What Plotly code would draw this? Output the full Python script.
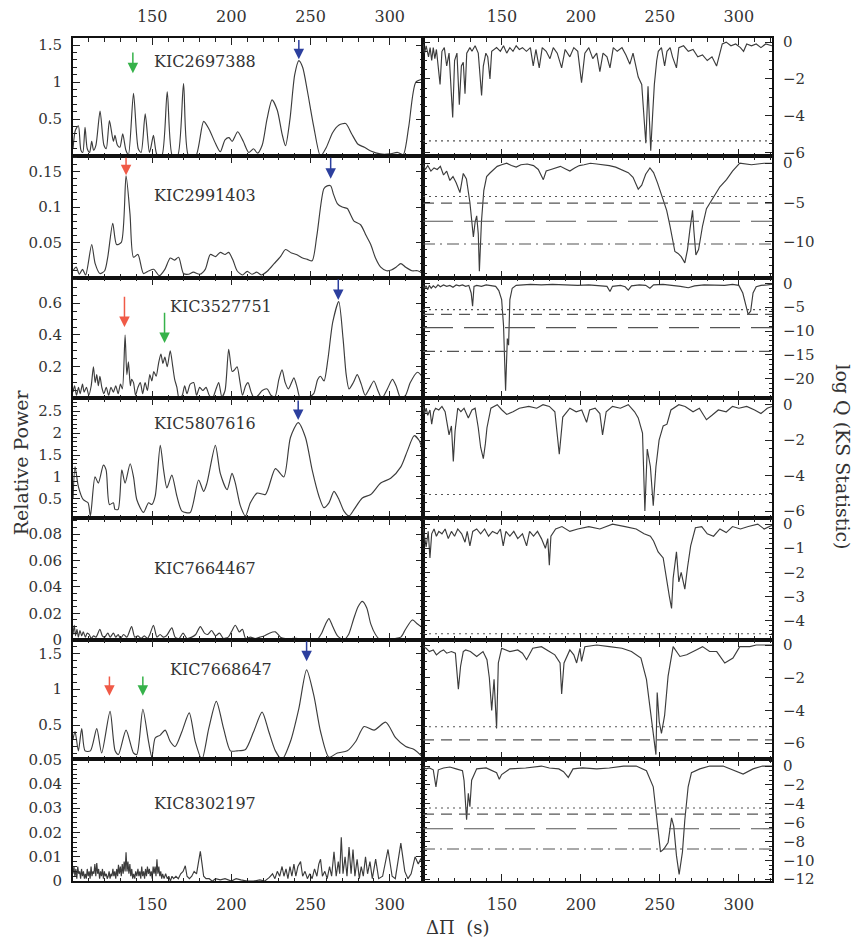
import plotly.graph_objects as go

# ---------------- data ----------------
STARS = ["KIC2697388", "KIC2991403", "KIC3527751", "KIC5807616",
         "KIC7664467", "KIC7668647", "KIC8302197"]

XR = [100, 321]
X_TICKS = [150, 200, 250, 300]

# Left column: relative power vs period spacing
L1 = [(100,0.1),(101.5,0.35),(103.4,0.41),(105,0.08),(106.2,0.05),(107.6,0.39),(109,0.1),(110.5,0.05),(111.8,0.2),(113,0.08),
      (114.5,0.15),(117.1,0.61),(119.5,0.15),(121,0.1),(123,0.48),(125.5,0.2),(126.5,0.28),(128,0.15),(129.6,0.12),(131.4,0.3),
      (133.4,0.08),(135,0.02),(138.2,0.85),(141.2,0.1),(143,0.05),(145.6,0.57),(148.2,0.05),(149.2,0.12),(150.8,0.28),(153,0.02),
      (156,0.0),(159.5,0.87),(162.8,0.0),(166,0.0),(169.8,0.98),(173,0.0),(177.5,0.0),(182.5,0.47),(186,0.36),(190,0.17),
      (193,0.06),(196,0.22),(198.5,0.25),(200.5,0.2),(204,0.33),(207.5,0.2),(211,0.05),(214,0.1),(216.5,0.04),(219.5,0.15),
      (222.5,0.5),(225.7,0.76),(229,0.62),(232,0.3),(234.2,0.14),(237,0.5),(240,1.1),(242.6,1.29),(245,1.2),(248,0.88),
      (252,0.4),(256.3,0.0),(260,0.12),(264,0.32),(268,0.42),(272.2,0.44),(276,0.3),(280,0.16),(284,0.12),(288,0.07),
      (294,0.03),(300,0.03),(305,0.05),(308.5,0.02),(312,0.4),(316.5,1.0),(321,1.04)]

L2 = [(100,0.01),(102,0.015),(104,0.005),(106,0.012),(108,0.004),(111.8,0.047),(114,0.02),(117,0.006),(120,0.01),(122,0.03),
      (125.1,0.077),(127.5,0.047),(130.5,0.05),(133.5,0.144),(136,0.09),(138.2,0.029),(141,0.033),(144.5,0.006),(148,0.01),(151,0.012),
      (154.5,0.003),(158,0.012),(161.4,0.028),(164,0.025),(166.7,0.029),(169.8,0.006),(173,0.005),(176,0.008),(180,0.005),(183.5,0.012),
      (186.7,0.033),(190,0.03),(193,0.036),(196,0.033),(198.3,0.036),(201,0.025),(203.6,0.01),(207,0.004),(210,0.009),(213,0.005),
      (216,0.008),(219,0.004),(223,0.01),(227,0.02),(231,0.03),(234.2,0.04),(238,0.035),(241,0.033),(245,0.028),(248,0.026),
      (251,0.024),(254,0.06),(258.4,0.126),(260.5,0.13),(262.7,0.13),(264.5,0.118),(266.9,0.105),(270,0.1),(273.2,0.098),(275.5,0.088),
      (277.4,0.08),(281.6,0.075),(285,0.06),(288,0.047),(291,0.028),(294.3,0.015),(298,0.01),(301,0.011),(304,0.015),(307,0.02),
      (310,0.015),(314,0.01),(317.5,0.01),(321,0.006)]

L3 = [(100,0.04),(101,0.08),(102.2,0.02),(103.5,0.07),(104.5,0.03),(106,0.09),(107,0.04),(108.5,0.07),(110,0.02),(111.5,0.08),
      (112.9,0.2),(114,0.1),(115,0.15),(116,0.08),(117,0.14),(118.2,0.07),(119.5,0.03),(121,0.07),(122.5,0.02),(124,0.07),
      (125.5,0.04),(127,0.08),(128.5,0.03),(130,0.09),(131.2,0.06),(132.9,0.4),(134,0.15),(135,0.23),(136.2,0.08),(137,0.12),
      (138.2,0.1),(139.5,0.02),(141,0.07),(142.5,0.1),(144,0.03),(145.5,0.1),(147,0.05),(148.5,0.15),(149.8,0.11),(151,0.17),
      (152.5,0.14),(154,0.22),(155.5,0.28),(156.8,0.22),(158,0.26),(159.5,0.2),(161.4,0.3),(163,0.2),(164.2,0.12),(165.6,0.07),
      (167,0.0),(169,0.02),(170.5,0.08),(172,0.03),(174,0.09),(176.2,0.1),(178,0.02),(180,0.07),(182,0.05),(184,0.07),
      (186,0.02),(188,0.0),(190,0.05),(192,0.1),(194,0.01),(196,0.05),(198.3,0.31),(200.5,0.17),(202,0.18),(203.6,0.2),
      (205.5,0.1),(207,0.02),(209,0.08),(210.5,0.1),(212.5,0.04),(214.5,0.0),(217,0.02),(219.5,0.05),(222.6,0.06),(225,0.02),
      (227.5,0.01),(230,0.12),(232,0.18),(234,0.1),(236,0.06),(238,0.1),(239.5,0.13),(241.5,0.07),(243.5,0.0),(246,0.01),
      (249,0.01),(252,0.03),(254.5,0.12),(256.3,0.14),(258.5,0.11),(261,0.25),(264,0.48),(267.8,0.61),(270.5,0.38),(272.5,0.15),
      (274.3,0.06),(277,0.1),(279.5,0.15),(282,0.09),(284.5,0.02),(287,0.06),(290,0.11),(292.5,0.05),(295,0.0),(298.5,0.06),
      (301.7,0.12),(304,0.08),(307,0.0),(310,0.02),(313,0.1),(317.5,0.165),(321,0.13)]

L4 = [(100,0.5),(101.3,1.23),(103.4,0.78),(106.5,0.48),(109.5,0.41),(111,0.11),(113.9,1.0),(116,0.86),(119.2,1.27),(120.9,1.16),
      (123,0.37),(125.5,0.41),(126.5,0.26),(128.5,0.26),(130.8,1.16),(132.9,0.86),(136.1,1.3),(138.2,1.0),(140.3,0.48),(144.5,0.19),
      (147.7,0.41),(149.8,0.37),(151.9,0.56),(155.1,1.72),(157.2,1.16),(159.3,0.75),(162.4,1.04),(165.6,0.56),(168.8,0.22),(174,0.19),
      (179.3,0.93),(182.5,0.67),(184.6,0.86),(189.9,1.72),(193,1.08),(197.3,0.71),(200.4,1.08),(202.5,0.86),(205.7,0.34),(208.9,0.11),
      (212,0.41),(216.2,0.63),(221.5,0.6),(227.8,1.19),(233.1,1.0),(237.3,1.9),(242.2,2.24),(246.8,1.9),(251,1.16),(255.3,0.56),
      (258.4,0.3),(261.6,0.41),(264.8,0.67),(268,0.48),(271.1,0.22),(274.3,0.11),(277.5,0.26),(282.7,0.52),(288,0.6),(294.3,0.86),
      (300.6,0.97),(307,1.23),(311.2,1.6),(315.4,1.94),(318.6,1.83),(321,1.57)]

L5 = [(100,0.004),(100.8,0.011),(101.6,0.003),(102.5,0.008),(103.4,0.002),(104.4,0.007),(105.5,0.003),(106.5,0.006),(107.8,0.002),(109,0.005),
      (110.2,0.004),(111.5,0.001),(113,0.003),(114.5,0.002),(117,0.008),(118.5,0.003),(120,0.002),(122,0.005),(123.5,0.002),(125.5,0.005),
      (127,0.002),(128.5,0.004),(130,0.001),(132,0.004),(134,0.002),(137,0.01),(139,0.002),(141,0.003),(143,0.001),(145,0.003),
      (147,0.001),(148.5,0.004),(150.8,0.011),(153,0.002),(155,0.004),(157,0.002),(159,0.003),(162.4,0.009),(164.5,0.002),(167,0.001),
      (169.5,0.005),(172,0.001),(175,0.002),(177.5,0.004),(180.4,0.01),(183,0.005),(185,0.004),(187.5,0.007),(190,0.003),(192.5,0.005),
      (195,0.001),(198,0.002),(200,0.006),(202.5,0.011),(205,0.006),(207,0.008),(209,0.001),(212,0.002),(215,0.001),(218,0.002),
      (221,0.003),(224,0.005),(227.8,0.006),(231,0.002),(234,0.001),(238,0.001),(242,0.001),(246,0.0),(250,0.001),(254,0.0),
      (257,0.005),(259.5,0.012),(261.6,0.016),(264,0.01),(267,0.003),(271,0.0),(274,0.004),(277,0.015),(280,0.025),(282.7,0.029),
      (285.5,0.024),(288,0.012),(291,0.004),(294,0.0),(298,0.0),(303,0.001),(307,0.002),(310,0.008),(314.3,0.015),(317.5,0.012),
      (321,0.009)]

L6 = [(100,0.3),(101.3,0.41),(103.4,0.14),(105.5,0.45),(107.6,0.14),(111,0.14),(115,0.45),(118.1,0.11),(123.4,0.69),(126.6,0.14),
      (128.7,0.09),(133.5,0.43),(138.2,0.11),(140.3,0.09),(144.1,0.72),(147.7,0.27),(149.8,0.05),(151.9,0.32),(155.1,0.36),(158.2,0.43),
      (161.4,0.27),(164.5,0.2),(168.8,0.41),(173.4,0.67),(177.2,0.27),(181.4,0.02),(185.7,0.45),(190.5,0.83),(195.1,0.45),(199.4,0.14),
      (203.6,0.14),(208.9,0.16),(214.1,0.41),(219.4,0.68),(223.6,0.41),(227.8,0.14),(232,0.02),(237.3,0.27),(242.6,0.73),(247.5,1.27),
      (252.1,0.91),(256.3,0.41),(261.6,0.05),(266.9,0.11),(273.2,0.14),(278.5,0.27),(283.8,0.48),(290.1,0.43),(297.5,0.54),(303.8,0.32),
      (310.1,0.2),(315.4,0.16),(321,0.05)]

L7 = [(100,0.003),(100.6,0.006),(101.2,0.002),(101.8,0.005),(102.4,0.001),(103,0.006),(103.6,0.003),(104.2,0.004),(104.8,0.001),(105.4,0.005),
      (106,0.002),(106.6,0.004),(107.2,0.001),(107.8,0.003),(108.4,0.001),(109,0.005),(109.6,0.002),(110.2,0.004),(110.8,0.001),(111.4,0.006),
      (112,0.002),(112.6,0.004),(113.2,0.003),(113.8,0.007),(114.4,0.002),(115,0.0074),(115.6,0.003),(116.2,0.005),(116.8,0.001),(117.4,0.004),
      (118,0.002),(118.6,0.005),(119.2,0.001),(119.8,0.004),(120.4,0.002),(121,0.003),(121.6,0.001),(122.2,0.002),(122.8,0.004),(123.4,0.001),
      (124,0.003),(124.6,0.002),(125.2,0.005),(125.8,0.002),(126.4,0.004),(127,0.001),(127.6,0.005),(128.2,0.002),(128.7,0.0067),(129.3,0.003),
      (129.9,0.006),(130.5,0.002),(131.1,0.007),(131.7,0.003),(132.3,0.008),(132.9,0.004),(133.5,0.0118),(134.1,0.004),(134.7,0.008),(135.3,0.003),
      (135.9,0.007),(136.5,0.002),(137.1,0.005),(137.7,0.001),(138.3,0.003),(139,0.001),(139.6,0.004),(140.3,0.002),(141,0.005),(141.6,0.002),
      (142.2,0.004),(142.8,0.001),(143.4,0.006),(144,0.002),(144.6,0.004),(145.2,0.001),(145.8,0.005),(146.4,0.002),(147,0.006),(147.6,0.003),
      (148.2,0.005),(148.8,0.002),(149.4,0.004),(150,0.001),(150.6,0.006),(151.2,0.003),(151.8,0.006),(152.4,0.002),(153,0.009),(153.6,0.003),
      (154.2,0.006),(154.8,0.002),(155.4,0.004),(156,0.001),(156.6,0.003),(157.5,0.001),(158.5,0.003),(159.5,0.001),(160.5,0.002),(161.5,0.0),
      (162.5,0.002),(163.5,0.001),(165,0.002),(166.5,0.001),(168,0.003),(169.5,0.004),(170.9,0.0063),(172,0.002),(173.5,0.001),(175,0.002),
      (176.5,0.004),(178,0.003),(179.3,0.008),(180.4,0.0122),(181.5,0.007),(182.5,0.002),(184,0.001),(186,0.001),(188,0.0),(190,0.001),
      (193,0.0005),(196,0.001),(200,0.0),(203,0.001),(206,0.0005),(210,0.0),(214,0.0),(218,0.0005),(221,0.0),(224,0.0015),
      (226,0.003),(227.5,0.001),(229,0.004),(230.5,0.002),(232,0.006),(233.2,0.002),(234.5,0.005),(235.7,0.001),(237,0.006),(238.2,0.002),
      (239.5,0.007),(240.7,0.002),(242,0.006),(243.7,0.008),(245,0.002),(246.5,0.004),(248,0.001),(249.5,0.003),(251,0.001),(252.5,0.005),
      (254,0.002),(255.2,0.007),(256.3,0.009),(257.5,0.002),(259,0.004),(260.5,0.001),(262,0.006),(263.3,0.002),(264.8,0.012),(266.2,0.002),
      (267.5,0.008),(268.4,0.003),(269.4,0.018),(270.5,0.003),(271.8,0.01),(273,0.002),(274.3,0.014),(275.6,0.003),(276.8,0.013),(278,0.002),
      (279.4,0.009),(280.8,0.001),(282,0.006),(283.3,0.002),(284.7,0.01),(286,0.003),(287.5,0.008),(289,0.001),(291.1,0.009),(293,0.001),
      (295.5,0.002),(298.9,0.013),(301.5,0.002),(303.5,0.001),(307,0.0156),(309.5,0.004),(311.5,0.001),(313.5,0.003),(316,0.01),(318,0.007),
      (319.5,0.009),(321,0.01)]

# Right column: log Q (KS statistic)
R1 = [(100,-0.1),(101,-0.6),(102,-0.2),(103.5,-0.8),(104.5,-0.3),(105.5,-1.0),(106.5,-0.3),(107.5,-0.9),(108.5,-0.4),(110.8,-2.3),
      (112,-0.5),(113.5,-0.3),(115,-1.3),(116.5,-0.6),(118.8,-4.1),(120,-1.0),(121.5,-0.6),(123,-3.4),(124.3,-1.3),(125.5,-1.1),
      (126.6,-2.8),(127.7,-0.6),(129.7,-0.3),(131,-0.5),(133,-0.2),(135,-0.6),(137.1,-2.9),(138.2,-1.3),(139.8,-0.6),(141,-0.8),
      (142.4,-2.0),(143.5,-0.5),(146.6,-0.3),(149,-0.5),(151,-0.2),(153,-0.6),(155,-0.3),(157,-0.5),(159,-0.2),(161,-0.4),
      (163,-0.3),(165.5,-0.5),(168,-0.3),(169.8,-1.3),(171.5,-0.4),(173.6,-1.4),(175.5,-0.3),(178,-0.5),(180.4,-0.9),(182.5,-0.3),
      (185,-0.6),(187.8,-1.4),(190,-0.4),(193,-0.8),(195.5,-0.3),(198,-0.5),(200.4,-2.2),(202.5,-0.6),(205,-0.3),(207.5,-0.9),
      (210,-0.6),(212,-1.6),(214,-0.6),(216.5,-0.8),(218.4,-1.4),(220.5,-0.3),(223,-0.5),(226,-0.3),(228.5,-0.7),(231,-1.2),
      (233,-0.6),(236.3,-1.9),(238.5,-2.3),(241.1,-5.5),(242.5,-2.4),(244.2,-5.9),(245.5,-3.8),(246.5,-2.3),(248,-1.0),(249,-0.5),
      (251,-0.3),(253,-1.3),(254.5,-0.5),(256.5,-0.3),(258,-0.8),(260.5,-1.4),(262,-0.3),(265,-0.2),(268,-0.5),(271,-0.4),
      (274,-0.8),(277,-0.7),(280,-1.0),(283,-0.8),(285.9,-1.3),(288,-0.6),(289.5,-0.1),(292,0.0),(295,-0.2),(298,-0.1),
      (301,-0.3),(303,-0.5),(305,-0.1),(308,-0.2),(311,-0.1),(314,-0.3),(317,-0.1),(321,-0.2)]

R2 = [(100,-0.2),(101.5,-0.8),(103,-0.3),(105,-1.0),(107,-0.6),(109,-0.8),(111,-0.4),(113,-1.5),(115,-1.0),(117,-2.2),
      (119,-1.7),(121,-2.5),(123.4,-3.75),(125.5,-1.3),(127.5,-2.0),(129.7,-5.0),(131.9,-9.4),(133,-7.5),(134,-6.7),(135,-9.0),
      (135.7,-13.75),(137,-7.5),(138.5,-3.5),(140.3,-1.7),(142.4,-1.25),(145,-0.8),(147,-0.4),(149.8,-0.2),(153,0.0),(156,-0.3),
      (159,-0.5),(162,-0.2),(166,-0.1),(170,-0.3),(173,-0.8),(176.2,-2.1),(178,-1.0),(181,-0.8),(184,-0.6),(187,-0.4),
      (190,-0.7),(193,-1.0),(196,-0.6),(199,-0.3),(202,-0.2),(206,0.0),(210,-0.1),(214,-0.2),(218,-0.3),(222,-0.5),
      (226,-0.8),(230,-1.2),(233,-1.8),(236.3,-3.3),(238.5,-2.8),(241,-1.4),(243.7,-0.6),(246,-1.2),(248.5,-2.5),(250.5,-3.8),
      (252.1,-4.6),(254.3,-6.0),(256.3,-7.9),(258,-9.8),(259.5,-11.25),(261.5,-11.5),(263.5,-11.9),(265.8,-12.7),(267.5,-11.0),(269,-8.5),
      (270.7,-6.0),(271.5,-8.5),(272.8,-11.7),(274.5,-11.0),(277,-8.0),(279.5,-5.8),(282,-5.0),(284,-4.2),(288,-3.0),(292.2,-2.1),
      (296,-1.0),(300.6,0.0),(304,-0.1),(308,-0.2),(312,-0.1),(316,0.0),(321,0.0)]

R3 = [(100,-0.4),(101,-1.0),(102,-0.5),(103,-1.3),(104,-0.4),(105.2,-1.0),(106.5,-0.5),(108,-0.9),(109.5,-0.3),(111,-0.7),
      (113,-0.3),(115,-0.6),(117,-0.4),(119,-0.8),(121,-0.3),(123,-0.5),(125,-0.3),(127,-0.6),(129,-0.4),(130.5,-2.0),
      (131.4,-4.8),(132.3,-0.6),(134,-0.4),(137,-0.6),(140,-0.3),(143,-0.5),(146,-0.6),(148,-1.5),(149.8,-3.4),(151,-8.9),
      (152.3,-22.6),(153.4,-11.6),(154.2,-13.0),(155,-3.4),(156.5,-1.0),(159,-0.4),(163,-0.3),(168,-0.2),(175,-0.3),(182,-0.2),
      (190,-0.3),(198,-0.4),(205,-0.3),(212,-0.4),(216.5,-0.6),(218.4,-1.7),(220,-0.6),(225,-0.4),(228,-0.7),(230,-1.4),
      (232,-0.5),(237,-0.3),(241,-0.4),(243.7,-1.0),(246,-0.3),(252,-0.2),(258,-0.4),(263,-0.6),(268,-0.9),(272,-0.5),
      (278,-0.3),(285,-0.3),(291,-0.4),(296,-0.2),(300,-0.4),(302.5,-2.0),(304.5,-4.5),(305.9,-6.5),(307.5,-5.8),(309,-2.0),
      (311,-0.7),(314,-0.4),(318,-0.3),(321,-0.2)]

R4 = [(100,-0.1),(101,-0.5),(102,-0.2),(103,-0.6),(104.4,-0.3),(105.5,-1.1),(106.8,-0.4),(108,-0.2),(110,-0.3),(112,-0.1),
      (114,-0.4),(116.5,-1.7),(118,-1.2),(119.2,-3.2),(120.3,-1.5),(122,-0.2),(124,-0.4),(126,-0.2),(128.7,-0.75),(131,-0.3),
      (133,-0.2),(135,-1.3),(136.5,-2.4),(138.2,-3.05),(139.5,-2.2),(140.5,-1.3),(143,-0.2),(147,0.0),(150,-0.3),(153,-0.55),
      (157,-0.4),(161,-0.2),(167,-0.1),(172,-0.2),(176,0.0),(180,-0.1),(183.5,-0.4),(186.3,-2.8),(188.5,-0.7),(193,-0.2),
      (197,-0.4),(200.5,-0.3),(203.6,-1.0),(205.5,-0.3),(209,-0.2),(212,-0.5),(213.7,-1.7),(216,-0.4),(220,-0.1),(225,-0.2),
      (230,0.0),(234,-0.4),(236.3,-0.75),(239,-1.6),(240.5,-6.0),(242,-2.5),(244,-3.5),(245.8,-5.7),(247.5,-3.5),(249.5,-2.0),
      (252.1,-1.2),(254.5,-1.1),(257,-0.3),(262,0.0),(266,-0.1),(271,-0.4),(275,-0.2),(279.5,-0.85),(283,-0.6),(287,-0.3),
      (292,-0.4),(296,-0.1),(300,-0.2),(305,-0.1),(310,-0.3),(314,-0.5),(318,-0.2),(321,-0.1)]

R5 = [(100,-0.1),(101,-0.5),(102,-0.95),(103.3,-0.3),(104.4,-1.4),(105.5,-0.4),(107,-0.2),(108.5,-0.5),(110,-0.3),(112,-0.4),
      (114,-0.2),(116,-0.6),(118,-0.3),(120,-0.5),(122,-0.2),(124.5,-0.4),(126.6,-0.75),(128,-0.3),(129.7,-0.9),(131.5,-0.3),
      (134,-0.2),(136.5,-0.4),(139,-0.2),(141.5,-0.5),(144,-0.3),(147,-0.4),(149,-0.2),(150.8,-0.9),(152.5,-0.3),(155,-0.5),
      (157.5,-0.3),(160,-0.6),(163,-0.4),(165.6,-0.9),(167.5,-0.3),(170,-0.5),(172.5,-0.3),(175,-0.6),(177.5,-1.0),(179,-0.6),
      (180,-1.7),(181,-0.5),(184,-0.2),(188,-0.1),(193,-0.3),(198,-0.2),(205,-0.1),(212,-0.2),(220,0.0),(228,-0.1),
      (235,-0.2),(240,-0.4),(244,-0.5),(246,-0.7),(248.9,-1.15),(252.1,-1.4),(254.6,-2.5),(256,-3.0),(257.4,-3.5),(258.4,-2.25),
      (260.5,-1.15),(262,-2.4),(263.5,-2.0),(265.8,-2.7),(267.5,-1.8),(269.5,-0.9),(272.5,-0.15),(276.5,-0.1),(280,-0.4),(284,-0.5),
      (288,-0.2),(292,-0.35),(296,-0.1),(301,-0.2),(306,-0.1),(312,0.0),(316,-0.2),(321,-0.05)]

R6 = [(100,-0.1),(102,-0.2),(104,-0.4),(106.5,-0.3),(108.5,-0.6),(111,-0.4),(113,-0.3),(115,-0.5),(118,-0.4),(120.5,-0.5),
      (122.4,-2.7),(123.8,-1.3),(125.5,-0.4),(127,-0.3),(130,-0.4),(134,-0.7),(138,-0.4),(140.5,-0.9),(142,-2.0),(143.5,-4.0),
      (145,-2.1),(146.6,-5.1),(147.7,-1.1),(149.8,-0.2),(155,-0.4),(160,-0.3),(163,-0.5),(165.6,-0.9),(169.5,-0.2),(175,-0.1),
      (180,-0.4),(183.5,-0.6),(186.8,-1.1),(187.8,-3.0),(189.3,-1.1),(193,-0.3),(195.5,-0.6),(197.3,-1.1),(199.4,-0.2),(200.4,-1.0),
      (202.5,-0.1),(210,0.0),(218,-0.1),(226,-0.2),(232,-0.4),(238,-0.8),(241.5,-2.1),(244.7,-4.7),(247.5,-6.7),(248.3,-2.9),
      (249.6,-4.7),(251,-5.4),(253,-4.3),(255.2,-1.9),(258.4,-0.1),(262.7,-0.7),(267,-0.6),(273,-0.3),(277,-0.1),(281.5,-0.4),
      (286,-0.4),(291.1,-1.1),(296.3,-0.8),(300.6,-0.1),(307,-0.1),(311,0.0),(321,0.0)]

R7 = [(100,-0.1),(102,-0.3),(104,-0.2),(106.5,-0.4),(108.2,-2.2),(109.7,-0.4),(113,-0.2),(117,-0.1),(121,-0.3),(125,-0.5),
      (126,-1.55),(127.6,-5.7),(128.7,-2.9),(129.7,-4.3),(130.8,-1.5),(134,-0.3),(140,-0.2),(146.6,-0.7),(148.3,-1.4),(149.8,-0.9),
      (155,-0.3),(165,-0.2),(175,0.0),(180,-0.2),(186,-0.3),(189,-0.6),(192,-1.2),(195,-0.3),(201,-0.2),(210,-0.3),
      (218,-0.2),(227,0.0),(235,0.0),(241.5,-0.5),(245.8,-2.2),(248.3,-5.7),(250.4,-9.1),(252.5,-8.8),(255.2,-8.1),(257.4,-5.5),
      (258.8,-6.4),(260.5,-9.5),(262.2,-11.5),(264.3,-9.1),(265.8,-5.7),(267.9,-2.2),(270,-0.7),(275.3,-0.3),(281.6,0.0),(290,0.0),
      (297,-0.5),(302.7,-0.85),(309,-0.3),(315,0.0),(321,0.0)]

# significance levels [dotted, short dash, long dash, dash-dot]; None = not drawn
R_LEVELS = [[-5.37, None, None, None],
            [-4.25, -5.08, -7.4, -10.3],
            [-5.5, -6.5, -9.3, -14.3],
            [-5.07, None, None, None],
            [-4.55, None, None, None],
            [-5.0, -5.8, None, None],
            [-4.45, -5.1, -6.65, -8.8]]

# arrows: panel index, x, tail value, tip value, kind
ARROW_PANEL = [0, 0, 1, 1, 2, 2, 2, 3, 5, 5, 5]
ARROW_X     = [137.8, 242.6, 133.5, 262.7, 132.5, 157.8, 267.5, 242.2, 123.0, 144.1, 247.5]
ARROW_TAIL  = [1.42, 1.59, 0.172, 0.172, 0.65, 0.55, 0.76, 2.78, 1.2, 1.2, 1.69]
ARROW_TIP   = [1.12, 1.31, 0.145, 0.14, 0.45, 0.35, 0.62, 2.3, 0.91, 0.91, 1.39]
ARROW_KIND  = ["g", "b", "r", "b", "r", "g", "b", "b", "r", "g", "b"]

# axes
L_RANGES = [[0, 1.59], [0, 0.172], [0, 0.76], [0.06, 2.79], [0, 0.092], [0.02, 1.69], [0, 0.05]]
L_TICKS = [[0.5, 1, 1.5], [0.05, 0.1, 0.15], [0.2, 0.4, 0.6], [0.5, 1, 1.5, 2, 2.5],
           [0, 0.02, 0.04, 0.06, 0.08], [0.5, 1, 1.5], [0, 0.01, 0.02, 0.03, 0.04, 0.05]]
L_MINOR = [0.1, 0.01, 0.05, 0.1, 0.005, 0.1, 0.002]
R_RANGES = [[-6.2, 0.2], [-14.6, 0.9], [-24.2, 1.2], [-6.4, 0.35], [-4.8, 0.25], [-7.0, 0.32], [-12.2, 0.7]]
R_TICKS = [[0, -2, -4, -6], [0, -5, -10], [0, -5, -10, -15, -20], [0, -2, -4, -6],
           [0, -1, -2, -3, -4], [0, -2, -4, -6], [0, -2, -4, -6, -8, -10, -12]]
R_MINOR = [0.5, 1, 1, 0.5, 0.2, 0.5, 0.5]

# ---------------- styling / layout ----------------
W, H = 855, 947
TOPS = [30, 150, 274, 397, 519, 643, 765]
BOTS = [150, 274, 397, 519, 643, 765, 889]
LCOL = [73, 423]
RCOL = [423, 772]
FONT = "DejaVu Serif"
TXT = "#333333"
LINE_C = "#3c3c3c"
ARROW_COL = {"r": "#f05a47", "g": "#36b24a", "b": "#2c3f9e"}
LEVEL_DASH = ["2px,4px", "11px,7px", "30px,11px", "12px,5px,2px,5px"]
LEFT_SHAPE = ["spline", "spline", "spline", "spline", "spline", "spline", "linear"]

LEFT = [L1, L2, L3, L4, L5, L6, L7]
RIGHT = [R1, R2, R3, R4, R5, R6, R7]


def ax_id(n):
    return "" if n == 1 else str(n)


def px2x(p):
    return p / W


def px2y(p):
    return 1 - p / H


fig = go.Figure()

tickfont = dict(family=FONT, size=15, color=TXT)
frame = dict(showline=True, linecolor="#111111", linewidth=2, mirror="allticks",
             showgrid=False, zeroline=False, ticks="inside", tickcolor="#222222",
             tickwidth=1.2)
layout_axes = {}

for i in range(7):
    ydom = [px2y(BOTS[i]), px2y(TOPS[i])]
    li, ri = i + 1, i + 8
    lx, ly = "x" + ax_id(li), "y" + ax_id(li)
    rx, ry = "x" + ax_id(ri), "y" + ax_id(ri)

    for data, xa, ya, shape in ((LEFT[i], lx, ly, LEFT_SHAPE[i]), (RIGHT[i], rx, ry, "linear")):
        fig.add_trace(go.Scatter(x=[p[0] for p in data], y=[p[1] for p in data],
                                 xaxis=xa, yaxis=ya, mode="lines",
                                 line=dict(color=LINE_C, width=1.15, shape=shape, smoothing=0.7),
                                 showlegend=False, hoverinfo="skip"))

    for k, lev in enumerate(R_LEVELS[i]):
        if lev is None:
            continue
        fig.add_trace(go.Scatter(x=XR, y=[lev, lev], xaxis=rx, yaxis=ry, mode="lines",
                                 line=dict(color="#555555", width=1.1, dash=LEVEL_DASH[k]),
                                 showlegend=False, hoverinfo="skip"))

    top = i == 0
    bottom = i == 6
    for n, col in ((li, LCOL), (ri, RCOL)):
        layout_axes["xaxis" + ax_id(n)] = dict(
            domain=[px2x(col[0]), px2x(col[1])], anchor="y" + ax_id(n), range=XR,
            side="top" if top else "bottom", showticklabels=top or bottom,
            tickmode="array", tickvals=X_TICKS, ticklen=7,
            tickfont=dict(family=FONT, size=16, color=TXT),
            ticklabelstandoff=8,
            minor=dict(tickmode="linear", tick0=100, dtick=10, ticks="inside", ticklen=3.5,
                       tickwidth=1, tickcolor="#222222"),
            **frame)
    layout_axes["yaxis" + ax_id(li)] = dict(
        domain=ydom, anchor=lx, range=L_RANGES[i], side="left",
        tickmode="array", tickvals=L_TICKS[i], ticklen=7, tickfont=tickfont,
        ticklabelstandoff=6,
        minor=dict(tickmode="linear", tick0=0, dtick=L_MINOR[i], ticks="inside", ticklen=3.5,
                   tickwidth=1, tickcolor="#222222"),
        **frame)
    layout_axes["yaxis" + ax_id(ri)] = dict(
        domain=ydom, anchor=rx, range=R_RANGES[i], side="right",
        tickmode="array", tickvals=R_TICKS[i], ticklen=7, tickfont=tickfont,
        ticklabelstandoff=6,
        minor=dict(tickmode="linear", tick0=0, dtick=R_MINOR[i], ticks="inside", ticklen=3.5,
                   tickwidth=1, tickcolor="#222222"),
        **frame)

# star labels
LABEL_X = [0.226, 0.226, 0.271, 0.226, 0.226, 0.271, 0.226]
LABEL_Y = [0.80, 0.677, 0.764, 0.787, 0.589, 0.754, 0.637]
annotations = []
for i, name in enumerate(STARS):
    annotations.append(dict(text=name, xref="x" + ax_id(i + 1) + " domain",
                            yref="y" + ax_id(i + 1) + " domain",
                            x=LABEL_X[i], y=LABEL_Y[i], xanchor="left", yanchor="middle",
                            showarrow=False, font=dict(family=FONT, size=16, color=TXT)))

# arrows
for p, x, tail, tip, kind in zip(ARROW_PANEL, ARROW_X, ARROW_TAIL, ARROW_TIP, ARROW_KIND):
    xa, ya = "x" + ax_id(p + 1), "y" + ax_id(p + 1)
    annotations.append(dict(x=x, y=tip, ax=x, ay=tail, xref=xa, yref=ya,
                            axref=xa, ayref=ya, text="", showarrow=True,
                            arrowhead=2, arrowsize=1.4, arrowwidth=1.5,
                            arrowcolor=ARROW_COL[kind], standoff=0, startstandoff=0))

# axis titles
annotations.append(dict(text="Relative Power", xref="paper", yref="paper", x=px2x(21), y=px2y(462),
                        textangle=-90, showarrow=False, xanchor="center", yanchor="middle",
                        font=dict(family=FONT, size=19, color=TXT)))
annotations.append(dict(text="log Q (KS Statistic)", xref="paper", yref="paper", x=px2x(843), y=px2y(456),
                        textangle=90, showarrow=False, xanchor="center", yanchor="middle",
                        font=dict(family=FONT, size=19, color=TXT)))
annotations.append(dict(text="ΔΠ  (s)", xref="paper", yref="paper", x=px2x(424), y=px2y(936),
                        showarrow=False, xanchor="left", yanchor="middle",
                        font=dict(family=FONT, size=18, color=TXT)))

fig.update_layout(width=W, height=H, margin=dict(l=0, r=0, t=0, b=0),
                  paper_bgcolor="white", plot_bgcolor="white",
                  annotations=annotations, showlegend=False, **layout_axes)

fig.write_html("out.html")
